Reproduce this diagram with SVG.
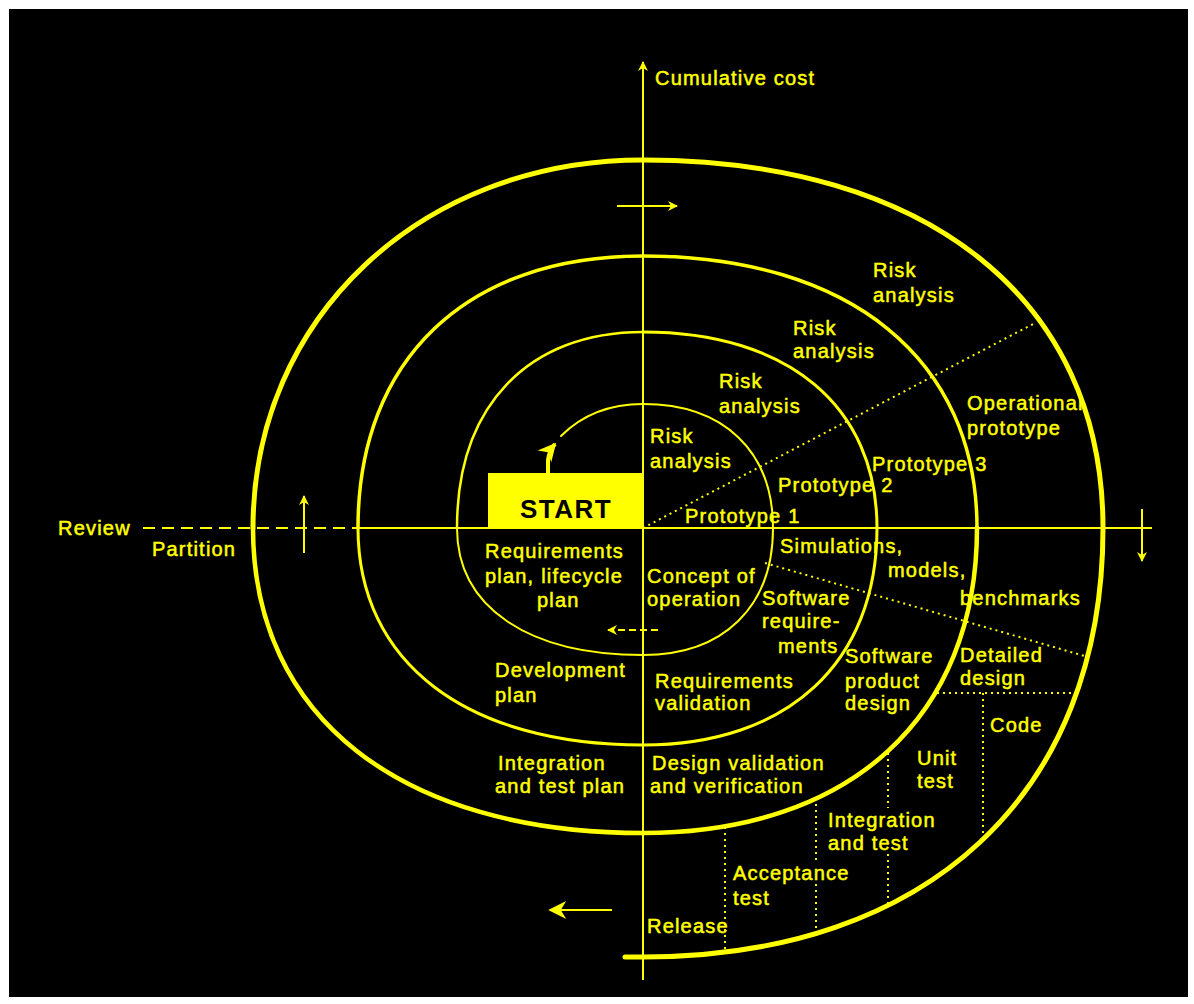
<svg xmlns="http://www.w3.org/2000/svg" width="1194" height="1004" viewBox="0 0 1194 1004">
  <style>
    .t { font-family: "Liberation Sans", Arial, sans-serif; font-size: 20px; letter-spacing: 1.2px; fill: #ffff00; stroke: #ffff00; stroke-width: 0.5px; }
    .ln { fill: none; stroke: #ffff00; }
    .dot { fill: none; stroke: #ffff00; stroke-width: 2; stroke-dasharray: 2 4; }
    .ax { fill: none; stroke: #ffff00; stroke-width: 2; }
  </style>
  <defs>
    <marker id="ah" viewBox="0 0 10 10" refX="9" refY="5" markerWidth="12" markerHeight="10" markerUnits="userSpaceOnUse" orient="auto">
      <path d="M0,0 L10,5 L0,10 L3,5 Z" fill="#ffff00"/>
    </marker>
    <marker id="ahBig" viewBox="0 0 10 10" refX="9" refY="5" markerWidth="22" markerHeight="18" markerUnits="userSpaceOnUse" orient="auto">
      <path d="M0,0 L10,5 L0,10 L3,5 Z" fill="#ffff00"/>
    </marker>
  </defs>

  <!-- page -->
  <rect x="0" y="0" width="1194" height="1004" fill="#ffffff"/>
  <rect x="9" y="9" width="1179" height="988" fill="#000000"/>

  <!-- axes and direction arrows -->
  <g id="axes">
    <line class="ax" x1="643" y1="980" x2="643" y2="62" marker-end="url(#ah)"/>
    <line class="ax" x1="143" y1="528" x2="357" y2="528" stroke-dasharray="12 7"/>
    <line class="ax" x1="357" y1="528" x2="1152" y2="528"/>
    <line class="ax" x1="617" y1="206" x2="677" y2="206" marker-end="url(#ah)"/>
    <line class="ax" x1="304" y1="553" x2="304" y2="496" marker-end="url(#ah)"/>
    <line class="ax" x1="1142" y1="509" x2="1142" y2="561" marker-end="url(#ah)"/>
    <line class="ax" x1="612" y1="910" x2="550" y2="910" stroke-width="4" marker-end="url(#ahBig)"/>
    <line class="ax" x1="658" y1="630" x2="608" y2="630" stroke-dasharray="7 4" marker-end="url(#ah)"/>
  </g>

  <!-- START box -->
  <g id="start">
    <rect x="488" y="473" width="155" height="55" fill="#ffff00"/>
    <text x="566" y="518" text-anchor="middle" font-family="Liberation Sans, Arial, sans-serif" font-size="26" font-weight="bold" letter-spacing="1.5" fill="#000000">START</text>
    <path class="ln" stroke-width="4" d="M 548 473 L 548 460 Q 549 451 555 444" marker-end="url(#ahBig)"/>
  </g>

  <!-- spiral, drawn quarter by quarter around the origin (643,528) -->
  <g id="spiral" class="ln" stroke-linecap="round">
    <path stroke-width="2" d="M 561 436 C 583 414 610 404 643 404"/>
    <path stroke-width="2" d="M 643 404 C 723.6 404 773 451.1 773 528 C 773 606.7 723.6 655 643 655 C 527.7 655 457 606.7 457 528"/>
    <path stroke-width="2.5" d="M 457 528 C 457 406.5 527.7 332 643 332"/>
    <path stroke-width="3" d="M 643 332 C 788.1 332 877 406.5 877 528 C 877 662.5 788.1 745 643 745 C 466.3 745 358 662.5 358 528"/>
    <path stroke-width="3.5" d="M 358 528 C 358 359.4 466.3 256 643 256 C 850.1 256 977 359.4 977 528"/>
    <path stroke-width="4.5" d="M 977 528 C 977 717.1 850.1 833 643 833 C 401.2 833 253 717.1 253 528"/>
    <path stroke-width="5" d="M 253 528 C 253 318.2 420.7 160 643 160 C 928.2 160 1103 299.8 1103 528 C 1103 794 928.2 957 643 957 L 625 957"/>
  </g>

  <!-- sector dividers -->
  <g id="dividers">
    <line class="dot" x1="643" y1="528" x2="1035" y2="323"/>
    <line class="dot" x1="765" y1="563" x2="1088" y2="657"/>
    <line class="dot" x1="937" y1="693" x2="1077" y2="693"/>
    <line class="dot" x1="983" y1="693" x2="983" y2="842"/>
    <line class="dot" x1="888" y1="753" x2="888" y2="808"/>
    <line class="dot" x1="888" y1="854" x2="888" y2="907"/>
    <line class="dot" x1="816" y1="798" x2="816" y2="862"/>
    <line class="dot" x1="816" y1="884" x2="816" y2="937"/>
    <line class="dot" x1="725" y1="827" x2="725" y2="953"/>
  </g>

  <!-- labels -->
  <g id="axis-labels">
    <text class="t" x="655" y="85">Cumulative cost</text>
    <text class="t" x="58" y="535">Review</text>
    <text class="t" x="152" y="556">Partition</text>
  </g>
  <g id="risk-analysis">
    <text class="t" x="650" y="443">Risk</text>
    <text class="t" x="650" y="468">analysis</text>
    <text class="t" x="719" y="388">Risk</text>
    <text class="t" x="719" y="413">analysis</text>
    <text class="t" x="793" y="335">Risk</text>
    <text class="t" x="793" y="358">analysis</text>
    <text class="t" x="873" y="277">Risk</text>
    <text class="t" x="873" y="302">analysis</text>
  </g>
  <g id="prototypes">
    <text class="t" x="685" y="523">Prototype 1</text>
    <text class="t" x="778" y="492">Prototype 2</text>
    <text class="t" x="872" y="471">Prototype 3</text>
    <text class="t" x="967" y="410">Operational</text>
    <text class="t" x="967" y="435">prototype</text>
  </g>
  <g id="models">
    <text class="t" x="780" y="553">Simulations,</text>
    <text class="t" x="888" y="577">models,</text>
    <text class="t" x="960" y="605">benchmarks</text>
  </g>
  <g id="plans">
    <text class="t" x="485" y="558">Requirements</text>
    <text class="t" x="485" y="583">plan, lifecycle</text>
    <text class="t" x="537" y="607">plan</text>
    <text class="t" x="495" y="677">Development</text>
    <text class="t" x="495" y="702">plan</text>
    <text class="t" x="498" y="770">Integration</text>
    <text class="t" x="495" y="793">and test plan</text>
  </g>
  <g id="development">
    <text class="t" x="647" y="583">Concept of</text>
    <text class="t" x="647" y="606">operation</text>
    <text class="t" x="762" y="605">Software</text>
    <text class="t" x="762" y="628">require-</text>
    <text class="t" x="778" y="653">ments</text>
    <text class="t" x="655" y="688">Requirements</text>
    <text class="t" x="655" y="710">validation</text>
    <text class="t" x="845" y="663">Software</text>
    <text class="t" x="845" y="688">product</text>
    <text class="t" x="845" y="710">design</text>
    <text class="t" x="960" y="662">Detailed</text>
    <text class="t" x="960" y="685">design</text>
    <text class="t" x="652" y="770">Design validation</text>
    <text class="t" x="650" y="793">and verification</text>
    <text class="t" x="990" y="732">Code</text>
    <text class="t" x="917" y="765">Unit</text>
    <text class="t" x="917" y="788">test</text>
    <text class="t" x="828" y="827">Integration</text>
    <text class="t" x="828" y="850">and test</text>
    <text class="t" x="733" y="880">Acceptance</text>
    <text class="t" x="733" y="905">test</text>
    <text class="t" x="647" y="933">Release</text>
  </g>
</svg>
